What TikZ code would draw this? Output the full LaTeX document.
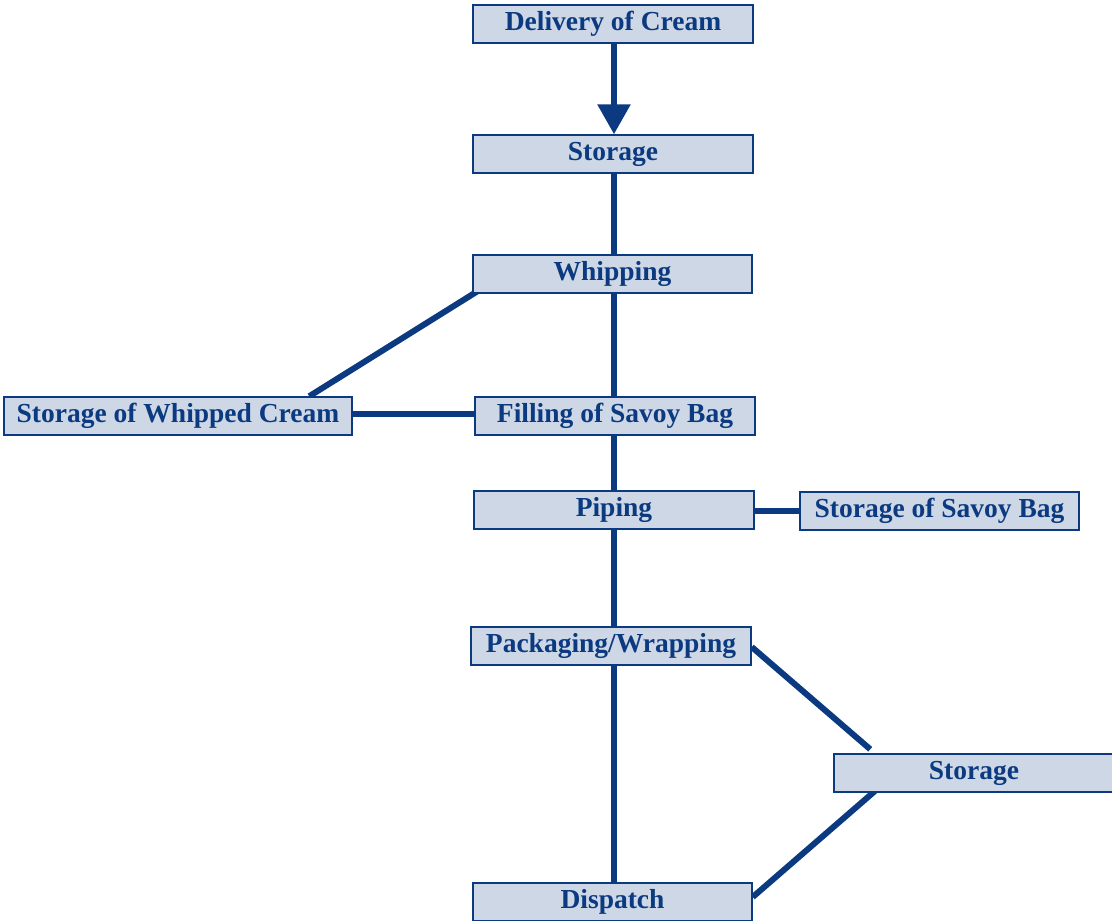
\documentclass[tikz,border=0pt]{standalone}
\usepackage{fontspec}
\setmainfont{Liberation Serif}
\usetikzlibrary{calc,backgrounds,arrows.meta}
\definecolor{navy}{HTML}{0B3A80}
\definecolor{boxfill}{HTML}{CDD7E6}
\tikzset{
  stepbox/.style={draw=navy, line width=1.5pt, fill=boxfill, text=navy,
    minimum height=38pt, inner sep=0pt, font=\fontsize{27.5}{30}\selectfont\bfseries},
  link/.style={draw=navy, line width=6pt},
}
\begin{document}
\begin{tikzpicture}[x=1pt,y=-1pt]
\useasboundingbox (0,0) rectangle (1112,921);
\node[stepbox, minimum width=280pt] (deliv) at (613,24) {Delivery of Cream};
\node[stepbox, minimum width=280pt] (stor1) at (613,154) {Storage};
\node[stepbox, minimum width=279pt] (whip) at (612.5,274) {Whipping};
\node[stepbox, minimum width=348pt] (swc) at (178,416) {Storage of Whipped Cream};
\node[stepbox, minimum width=280pt] (fill) at (615,416) {Filling of Savoy Bag};
\node[stepbox, minimum width=280pt] (pip) at (614,510) {Piping};
\node[stepbox, minimum width=279pt] (ssb) at (939.5,511) {Storage of Savoy Bag};
\node[stepbox, minimum width=280pt] (pack) at (611,646) {Packaging/Wrapping};
\node[stepbox, minimum width=280pt] (stor2) at (974,773) {Storage};
\node[stepbox, minimum width=279pt] (disp) at (612.5,902) {Dispatch};
\begin{pgfonlayer}{background}
\draw[link, -{Triangle[length=30pt,width=32pt]}] (deliv.south -| 614,0) -- (stor1.north -| 614,0);
\draw[link] (stor1.south -| 614,0) -- (whip.north -| 614,0);
\draw[link] (whip.south -| 614,0) -- (fill.north -| 614,0);
\draw[link] (fill.south -| 614,0) -- (pip.north -| 614,0);
\draw[link] (pip.south -| 614,0) -- (pack.north -| 614,0);
\draw[link] (pack.south -| 614,0) -- (disp.north -| 614,0);
\draw[link] ($(whip.south west)+(6,-3)$) -- ($(swc.north west)+(306,0)$);
\draw[link] (swc.east |- 0,414) -- (fill.west |- 0,414);
\draw[link] (pip.east |- 0,511) -- (ssb.west |- 0,511);
\draw[link] ($(pack.east)+(0,1)$) -- ($(stor2.north west)+(37,-4)$);
\draw[link] ($(stor2.south west)+(42,-2)$) -- ($(disp.east)+(0,-5)$);
\end{pgfonlayer}
\end{tikzpicture}
\end{document}
